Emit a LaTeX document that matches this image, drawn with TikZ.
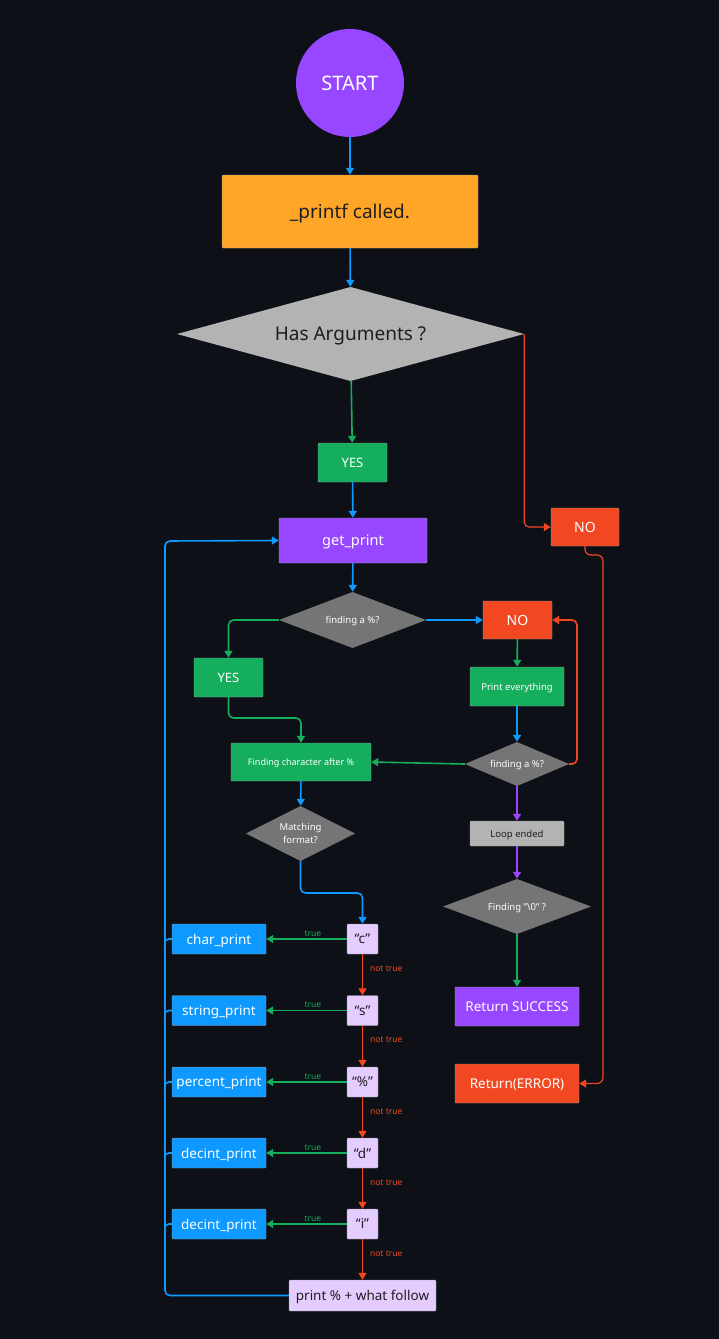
\documentclass[tikz,border=0pt]{standalone}
\usepackage{fontspec}
\setmainfont{Noto Sans}
\usetikzlibrary{shapes.geometric,arrows.meta,calc}
\definecolor{bg}{HTML}{0D1017}
\definecolor{cpurple}{HTML}{9747FF}
\definecolor{corange}{HTML}{FFA629}
\definecolor{clgray}{HTML}{B3B3B3}
\definecolor{cdgray}{HTML}{757575}
\definecolor{cgreen}{HTML}{14AE5C}
\definecolor{cred}{HTML}{F24822}
\definecolor{cblue}{HTML}{0D99FF}
\definecolor{clav}{HTML}{E4CCFF}
\definecolor{cdark}{HTML}{1E1E1E}
\tikzset{
  box/.style={rectangle, inner sep=0pt, rounded corners=1pt, draw=black!40, line width=0.4pt, align=center, text depth=0pt},
  dia/.style={rectangle, inner sep=0pt, align=center, text depth=0pt, path picture={
      \fill[#1] (path picture bounding box.west) -- (path picture bounding box.north)
        -- (path picture bounding box.east) -- (path picture bounding box.south) -- cycle;}},
  con/.style={line width=1.6pt, -{Triangle[width=8pt,length=7pt]}, rounded corners=5pt},
  thin con/.style={line width=1.2pt, -{Triangle[width=8pt,length=7pt]}, rounded corners=5pt},
  lbl/.style={font=\fontsize{8.5}{10}\selectfont, inner sep=1pt},
  pbox/.style={box, fill=cblue, text=white, minimum width=94pt, minimum height=30pt, font=\fontsize{13.5}{16}\selectfont},
  cbox/.style={box, fill=clav, text=cdark, minimum width=31pt, minimum height=30pt, font=\fontsize{13.5}{16}\selectfont},
}
\begin{document}
\begin{tikzpicture}[x=1pt,y=-1pt]
\fill[bg] (0,0) rectangle (719,1339);
\useasboundingbox (0,0) rectangle (719,1339);

\node[circle, fill=cpurple, text=white, minimum size=108pt, inner sep=0pt, text depth=0pt, font=\fontsize{20}{24}\selectfont] (start) at (350,83) {START};
\node[box, fill=corange, text=cdark, minimum width=256pt, minimum height=73pt, font=\fontsize{19}{22}\selectfont] (called) at (350,211.5) {\_printf called.};
\node[dia=clgray, text=cdark, minimum width=347pt, minimum height=94pt, font=\fontsize{19}{22}\selectfont] (has) at (350.5,334) {Has Arguments ?};
\node[box, fill=cgreen, text=white, minimum width=69pt, minimum height=39pt, font=\fontsize{13}{15}\selectfont] (yes1) at (352.5,462.5) {YES};
\node[box, fill=cpurple, text=white, minimum width=148pt, minimum height=45pt, font=\fontsize{14.5}{17}\selectfont] (gp) at (353,540.5) {get\_print};
\node[dia=cdgray, text=white, minimum width=147pt, minimum height=56pt, font=\fontsize{9.5}{11}\selectfont] (f1) at (352.5,620) {finding a \%?};
\node[box, fill=cgreen, text=white, minimum width=69pt, minimum height=39pt, font=\fontsize{13}{15}\selectfont] (yes2) at (228.5,677.5) {YES};
\node[box, fill=cred, text=white, minimum width=69pt, minimum height=38pt, font=\fontsize{14}{16}\selectfont] (no2) at (517.5,620) {NO};
\node[box, fill=cgreen, text=white, minimum width=94pt, minimum height=39pt, font=\fontsize{9.5}{11}\selectfont] (pe) at (517,686.5) {Print everything};
\node[dia=cdgray, text=white, minimum width=104pt, minimum height=44pt, font=\fontsize{9.5}{11}\selectfont] (f2) at (517,764) {finding a \%?};
\node[box, fill=cgreen, text=white, minimum width=140pt, minimum height=38pt, font=\fontsize{9}{11}\selectfont] (fc) at (301,762) {Finding character after \%};
\node[dia=cdgray, text=white, minimum width=109pt, minimum height=55pt, font=\fontsize{9.5}{12.5}\selectfont] (mf) at (300.5,833.5) {Matching\\format?};
\node[box, fill=clgray, text=cdark, minimum width=94pt, minimum height=25pt, font=\fontsize{9.5}{11}\selectfont] (le) at (517,833.5) {Loop ended};
\node[dia=cdgray, text=white, minimum width=148pt, minimum height=55pt, font=\fontsize{9.5}{11}\selectfont] (fz) at (517,906.5) {Finding "\textbackslash0" ?};
\node[box, fill=cpurple, text=white, minimum width=124pt, minimum height=39pt, font=\fontsize{13.5}{16}\selectfont] (rs) at (517,1006.5) {Return SUCCESS};
\node[box, fill=cred, text=white, minimum width=124pt, minimum height=39pt, font=\fontsize{13.5}{16}\selectfont] (re) at (517,1083.5) {Return(ERROR)};
\node[box, fill=cred, text=white, minimum width=68pt, minimum height=38pt, font=\fontsize{14}{16}\selectfont] (no1) at (585,527) {NO};

\node[pbox] (p1) at (219,939) {char\_print};
\node[pbox] (p2) at (219,1010.5) {string\_print};
\node[pbox] (p3) at (219,1082) {percent\_print};
\node[pbox] (p4) at (219,1153) {decint\_print};
\node[pbox] (p5) at (219,1224) {decint\_print};

\node[cbox] (c1) at (362.5,939) {“c”};
\node[cbox] (c2) at (362.5,1010.5) {“s”};
\node[cbox] (c3) at (362.5,1082) {“\%”};
\node[cbox] (c4) at (362.5,1153) {“d”};
\node[cbox] (c5) at (362.5,1224) {“i”};
\node[box, fill=clav, text=cdark, minimum width=147pt, minimum height=31pt, font=\fontsize{13.5}{16}\selectfont] (pf) at (362.5,1295.5) {print \% + what follow};

% main flow
\draw[con, cblue] (start) -- (called);
\draw[con, cblue] (called) -- (has);
\draw[con, cgreen] (has) -- (yes1);
\draw[con, cblue] (yes1) -- (gp);
\draw[con, cblue] (gp) -- (f1);
\draw[con, cgreen] (f1.west) -| (yes2.north);
\draw[con, cblue] (f1.east) -- (no2.west);
\draw[con, cgreen] (yes2.south) -- (228.5,718) -| (fc.north);
\draw[con, cgreen] (no2) -- (pe);
\draw[con, cblue] (pe) -- (f2);
\draw[con, cred] (f2.east) -- (577,764) |- (no2.east);
\draw[con, cgreen] (f2.west) -- (fc.east);
\draw[con, cblue] (fc) -- (mf);
\draw[con, cpurple] (f2) -- (le);
\draw[con, cpurple] (le) -- (fz);
\draw[con, cgreen] (fz) -- (rs);
\draw[con, cblue] (mf.south) -- (300.5,893) -| (c1.north);

% NO path
\draw[thin con, cred] (has.east) |- (no1.west);
\draw[thin con, cred, rounded corners=6pt] (no1.south) -- (585,555) -- (603,555) |- (re.east);

% cases
\foreach \i/\j in {1/2,2/3,3/4,4/5}{
  \draw[thin con, cred] (c\i) -- node[lbl, text=cred, right, pos=0.35, xshift=6pt] {not true} (c\j);
}
\draw[thin con, cred] (c5) -- node[lbl, text=cred, right, pos=0.35, xshift=6pt] {not true} (pf);
\foreach \i in {1,...,5}{
  \draw[thin con, cgreen] (c\i) -- node[lbl, text=cgreen, above, pos=0.42, yshift=1pt] {true} (p\i);
}

% loop back
\coordinate (lx) at (165,541);
\draw[con, cblue] (pf.west) -- (165,1295.5) -- (lx) -- (gp.west);
\foreach \i in {1,...,5}{
  \draw[line width=1.6pt, cblue, rounded corners=4pt] (p\i.west) -- ++(-7,0) -- ++(0,8);
}
\end{tikzpicture}
\end{document}
